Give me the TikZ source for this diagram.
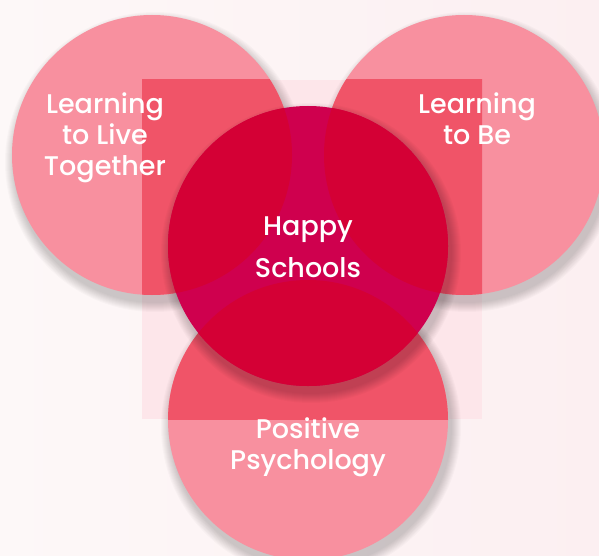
\documentclass[tikz,border=0pt]{standalone}
\usepackage{fontspec}
\setmainfont{Poppins}[UprightFont=* Medium]
\definecolor{paleleft}{HTML}{FDF8F8}
\definecolor{paleright}{HTML}{FCEFF1}
\definecolor{veil}{HTML}{FDE6EA}
\definecolor{rosy}{HTML}{F8909F}
\definecolor{rosydeep}{HTML}{F05468}
\definecolor{crimson}{HTML}{D40035}
\definecolor{berry}{HTML}{CF004E}
\tikzstyle{label}=[text=white, align=center, anchor=north, inner sep=0pt, font=\fontsize{27}{31}\selectfont]
\tikzstyle{shadowring}=[black, opacity=0.02]

\begin{document}
\begin{tikzpicture}[x=1pt, y=-1pt]
    \useasboundingbox (0,0) rectangle (599,556);
    \shade[left color=paleleft, right color=paleright] (0,0) rectangle (599,556);
    \coordinate (frameA) at (142,80);
    \coordinate (frameB) at (482,419);
    \coordinate (live) at (152,155);
    \coordinate (be) at (464,155);
    \coordinate (happy) at (308,246);
    \coordinate (psych) at (308,420);
    % faint square behind everything
    \fill[veil] (frameA) rectangle (frameB);
    % soft shadows of the outer circles
    \foreach \c in {live,be,psych}
        \foreach \k in {1,...,10}
            \fill[shadowring] ([shift={(3,7)}]\c) circle[radius=140+\k];
    \fill[rosy] (live) circle[radius=140] (be) circle[radius=140] (psych) circle[radius=140];
    \begin{scope}
        \clip (frameA) rectangle (frameB);
        \fill[rosydeep] (live) circle[radius=140] (be) circle[radius=140] (psych) circle[radius=140];
    \end{scope}
    % middle circle
    \foreach \k in {1,...,10}
        \fill[shadowring] ([shift={(3,7)}]happy) circle[radius=140+\k];
    \fill[berry] (happy) circle[radius=140];
    \begin{scope}
        \clip (happy) circle[radius=140];
        \fill[crimson] (live) circle[radius=140] (be) circle[radius=140] (psych) circle[radius=140];
    \end{scope}
    \node[label] (liveText) at (105,93) {Learning\\to Live\\Together};
    \node[label] (beText) at (477,93) {Learning\\to Be};
    \node[label, font=\fontsize{27}{42}\selectfont] (happyText) at (308,217) {Happy\\Schools};
    \node[label] (psychText) at (308,418) {Positive\\Psychology};
\end{tikzpicture}
\end{document}
